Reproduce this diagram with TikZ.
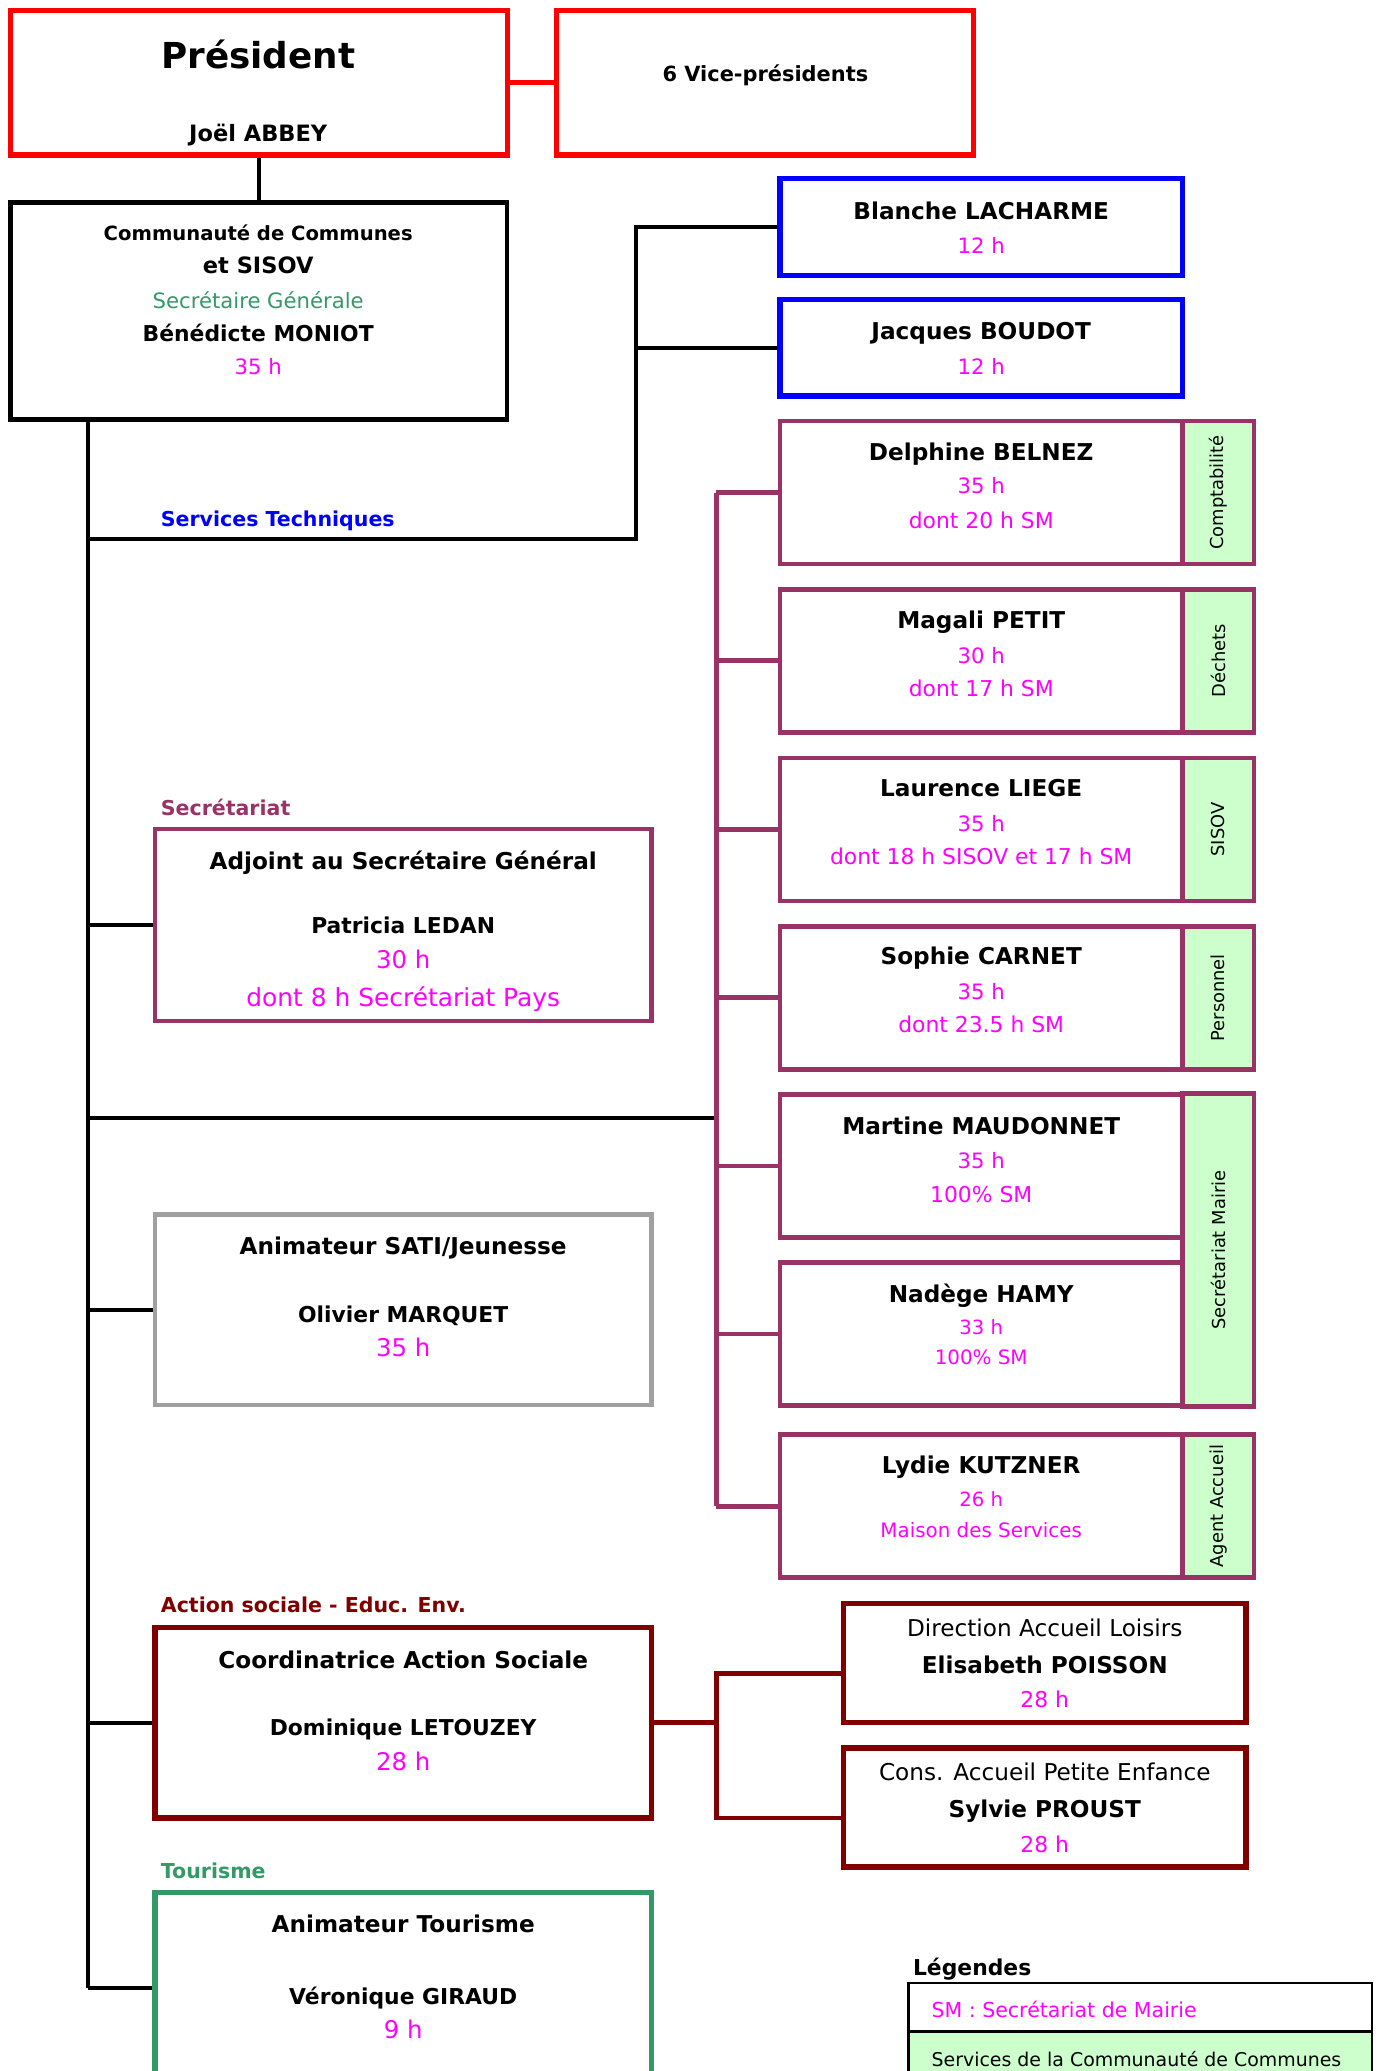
\documentclass[tikz,border=0pt]{standalone}
\usepackage{fontspec}
\setmainfont{DejaVu Sans}
\usepackage{tikz}
\usetikzlibrary{calc}
\definecolor{prune}{RGB}{153,51,102}
\definecolor{vertfonce}{RGB}{51,153,102}
\definecolor{bordeaux}{RGB}{128,0,0}
\definecolor{vertclair}{RGB}{204,255,204}
\definecolor{rose}{RGB}{255,0,255}
\definecolor{gris}{RGB}{160,160,160}

\begin{document}
\begin{tikzpicture}[x=1pt,y=-1pt,
    cadre/.style={draw, fill=white, line width=3.5pt, inner sep=0pt},
    onglet/.style={draw=prune, fill=vertclair, line width=3.5pt, minimum width=54pt, inner sep=0pt},
    lien/.style={line width=3pt},
    lienp/.style={prune, line width=3.5pt},
    nom/.style={anchor=mid, yshift=-3pt, font=\bfseries\fontsize{#1}{20}\selectfont}, nom/.default=17.5,
    heure/.style={anchor=mid, yshift=-3pt, text=rose, font=\fontsize{#1}{20}\selectfont}, heure/.default=16.5,
    texte/.style={anchor=mid, yshift=-3pt, font=\fontsize{#1}{20}\selectfont}, texte/.default=17.5,
    titre/.style={anchor=mid west, yshift=-3pt, font=\bfseries\fontsize{15.5}{18}\selectfont},
    vertical/.style={rotate=90, font=\fontsize{13.5}{15}\selectfont}]
  \useasboundingbox (0,0) rectangle (1040,1564);
  \clip (0,0) rectangle (1040,1564);

  % president and vice-presidents
  \node[cadre, draw=red, line width=4pt, minimum width=375pt, minimum height=109pt] (pres) at (195.5,62.5) {};
  \node[cadre, draw=red, line width=4pt, minimum width=315pt, minimum height=109pt] (vp) at (577.5,62.5) {};
  \draw [red, line width=4pt] (pres.east) -- (vp.west);
  \node[nom=27, yshift=-4pt] (prestitre) at (195,42) {Président};
  \node[nom=17] (presnom) at (195,101) {Joël ABBEY};
  \node[nom=15.8] (vptexte) at (578,56) {6 Vice-présidents};

  % communaute de communes
  \node[cadre, minimum width=375pt, minimum height=164pt] (comm) at (195.5,235) {};
  \draw [lien] (pres.south) -- (comm.north);
  \node[nom=14.8] (comm1) at (195,176) {Communauté de Communes};
  \node[nom=17] (comm2) at (195,201) {et SISOV};
  \node[texte=16, text=vertfonce] (comm3) at (195,227) {Secrétaire Générale};
  \node[nom=16.5] (comm4) at (195,252) {Bénédicte MONIOT};
  \node[heure=16] (comm5) at (195,277) {35 h};

  % main trunk
  \coordinate (tronchaut) at ($(comm.south west)+(60,0)$);

  % services techniques
  \node[cadre, draw=blue, line width=4pt, minimum width=304pt, minimum height=73pt] (blanche) at (741,171.5) {};
  \node[cadre, draw=blue, line width=4pt, minimum width=304pt, minimum height=73pt] (jacques) at (741,262.5) {};
  \node[nom] at (741,160) {Blanche LACHARME};
  \node[heure=16] at (741,186) {12 h};
  \node[nom] at (741,251) {Jacques BOUDOT};
  \node[heure=16] at (741,277) {12 h};
  \coordinate (stnoeud) at (480,407);
  \draw [lien] (tronchaut |- stnoeud) -- (stnoeud) |- (blanche.west);
  \draw [lien] (stnoeud) |- (jacques.west);
  \node[titre, text=blue] (sttitre) at (118,392) {Services Techniques};

  % secretariat staff with green tabs
  \node[cadre, draw=prune, minimum width=304pt, minimum height=108pt] (delphine) at (741,372) {};
  \node[onglet, minimum height=108pt] (tabcompta) at (920,372) {};
  \node[vertical] at (tabcompta.center) {Comptabilité};
  \node[nom] at (741,342) {Delphine BELNEZ};
  \node[heure=16] at (741,367) {35 h};
  \node[heure] at (741,393) {dont 20 h SM};

  \node[cadre, draw=prune, minimum width=304pt, minimum height=108pt] (magali) at (741,499) {};
  \node[onglet, minimum height=108pt] (tabdechets) at (920,499) {};
  \node[vertical] at (tabdechets.center) {Déchets};
  \node[nom] at (741,469) {Magali PETIT};
  \node[heure=16] at (741,495) {30 h};
  \node[heure] at (741,520) {dont 17 h SM};

  \node[cadre, draw=prune, minimum width=304pt, minimum height=108pt] (laurence) at (741,626.5) {};
  \node[onglet, minimum height=108pt] (tabsisov) at (920,626.5) {};
  \node[vertical] at (tabsisov.center) {SISOV};
  \node[nom] at (741,596) {Laurence LIEGE};
  \node[heure=16] at (741,622) {35 h};
  \node[heure] at (741,647) {dont 18 h SISOV et 17 h SM};

  \node[cadre, draw=prune, minimum width=304pt, minimum height=108pt] (sophie) at (741,753.5) {};
  \node[onglet, minimum height=108pt] (tabperso) at (920,753.5) {};
  \node[vertical] at (tabperso.center) {Personnel};
  \node[nom] at (741,723) {Sophie CARNET};
  \node[heure=16] at (741,749) {35 h};
  \node[heure] at (741,774) {dont 23.5 h SM};

  \node[cadre, draw=prune, minimum width=304pt, minimum height=108pt] (martine) at (741,880.5) {};
  \node[cadre, draw=prune, minimum width=304pt, minimum height=108pt] (nadege) at (741,1007.5) {};
  \node[onglet, minimum height=236pt] (tabmairie) at (920,944) {};
  \node[vertical] at (tabmairie.center) {Secrétariat Mairie};
  \node[nom] at (741,851) {Martine MAUDONNET};
  \node[heure=16] at (741,877) {35 h};
  \node[heure=16.5] at (741,902) {100\% SM};
  \node[nom] at (741,978) {Nadège HAMY};
  \node[heure=14.8] at (741,1002) {33 h};
  \node[heure=15] at (741,1025) {100\% SM};

  \node[cadre, draw=prune, minimum width=304pt, minimum height=108pt] (lydie) at (741,1137.5) {};
  \node[onglet, minimum height=108pt] (tabaccueil) at (920,1137.5) {};
  \node[vertical] at (tabaccueil.center) {Agent Accueil};
  \node[nom] at (741,1107) {Lydie KUTZNER};
  \node[heure=14.8] at (741,1132) {26 h};
  \node[heure=15] at (741,1155) {Maison des Services};

  % secretariat bus
  \coordinate (secnoeud) at (541,844);
  \draw [lien] (tronchaut |- secnoeud) -- (secnoeud);
  \draw [lienp] (secnoeud |- delphine.west) -- (secnoeud |- lydie.west);
  \draw [lienp] (secnoeud |- delphine.west) -- (delphine.west);
  \draw [lienp] (secnoeud |- magali.west) -- (magali.west);
  \draw [lienp] (secnoeud |- laurence.west) -- (laurence.west);
  \draw [lienp] (secnoeud |- sophie.west) -- (sophie.west);
  \draw [lienp] (secnoeud |- martine.west) -- (martine.west);
  \draw [lienp] (secnoeud |- nadege.west) -- (nadege.west);
  \draw [lienp] (secnoeud |- lydie.west) -- (lydie.west);

  % adjoint
  \node[titre, text=prune] (sectitre) at (118,610) {Secrétariat};
  \node[cadre, draw=prune, minimum width=375pt, minimum height=145pt] (adjoint) at (304.5,698.5) {};
  \node[nom] at (304.5,651) {Adjoint au Secrétaire Général};
  \node[nom=16.5] at (304.5,699) {Patricia LEDAN};
  \node[heure=18.4] at (304.5,726) {30 h};
  \node[heure=18.8] at (304.5,754) {dont 8 h Secrétariat Pays};

  % animateur SATI
  \node[cadre, draw=gris, minimum width=375pt, minimum height=144pt] (sati) at (304.5,989) {};
  \node[nom] at (304.5,942) {Animateur SATI/Jeunesse};
  \node[nom=16.5] at (304.5,993) {Olivier MARQUET};
  \node[heure=18.4] at (304.5,1019) {35 h};

  % action sociale
  \node[titre, text=bordeaux] (astitre) at (118,1212) {Action sociale - Educ. Env.};
  \node[cadre, draw=bordeaux, line width=4pt, minimum width=375pt, minimum height=144pt] (coord) at (304.5,1301) {};
  \node[nom] at (304.5,1254) {Coordinatrice Action Sociale};
  \node[nom=16.5] at (304.5,1305) {Dominique LETOUZEY};
  \node[heure=18.4] at (304.5,1331) {28 h};
  \node[cadre, draw=bordeaux, line width=4pt, minimum width=304pt, minimum height=90pt] (dal) at (789,1256) {};
  \node[texte] at (789,1230) {Direction Accueil Loisirs};
  \node[nom] at (789,1258) {Elisabeth POISSON};
  \node[heure] at (789,1284) {28 h};
  \node[cadre, draw=bordeaux, line width=4pt, minimum width=304pt, minimum height=90pt] (cape) at (789,1365) {};
  \node[texte] at (789,1339) {Cons. Accueil Petite Enfance};
  \node[nom] at (789,1367) {Sylvie PROUST};
  \node[heure] at (789,1393) {28 h};
  \coordinate (asnoeud) at (541,1301);
  \draw [bordeaux, line width=3.5pt] (coord.east) -- (asnoeud);
  \draw [bordeaux, line width=3.5pt] ([yshift=-8pt]dal.west) -| (asnoeud) |- ([yshift=-8pt]cape.west);

  % tourisme
  \node[titre, text=vertfonce] (tourtitre) at (118,1413) {Tourisme};
  \node[cadre, draw=vertfonce, line width=4pt, minimum width=375pt, minimum height=145pt] (tour) at (304.5,1501.5) {};
  \node[nom] at (304.5,1454) {Animateur Tourisme};
  \node[nom=16.5] at (304.5,1508) {Véronique GIRAUD};
  \node[heure=18.4] at (304.5,1534) {9 h};

  % trunk and branches
  \draw [lien] (tronchaut) -- (tronchaut |- tour.west);
  \draw [lien] (tronchaut |- adjoint.west) -- (adjoint.west);
  \draw [lien] (tronchaut |- sati.west) -- (sati.west);
  \draw [lien] (tronchaut |- coord.west) -- (coord.west);
  \draw [lien] (tronchaut |- tour.west) -- (tour.west);

  % legend
  \node[anchor=mid west, yshift=-2pt, font=\bfseries\fontsize{16.5}{18}\selectfont] (legtitre) at (686,1487) {Légendes};
  \node[draw, line width=2pt, fill=white, minimum width=350pt, minimum height=37pt, inner sep=0pt] (leg1) at (861,1516) {};
  \node[draw, line width=2pt, fill=vertclair, minimum width=350pt, minimum height=40pt, inner sep=0pt] (leg2) at (861,1554) {};
  \node[anchor=mid west, yshift=-2pt, text=rose, font=\fontsize{15.5}{18}\selectfont] at (700,1519) {SM : Secrétariat de Mairie};
  \node[anchor=mid west, yshift=-2pt, font=\fontsize{14.3}{18}\selectfont] at (700,1556) {Services de la Communauté de Communes};
\end{tikzpicture}
\end{document}
